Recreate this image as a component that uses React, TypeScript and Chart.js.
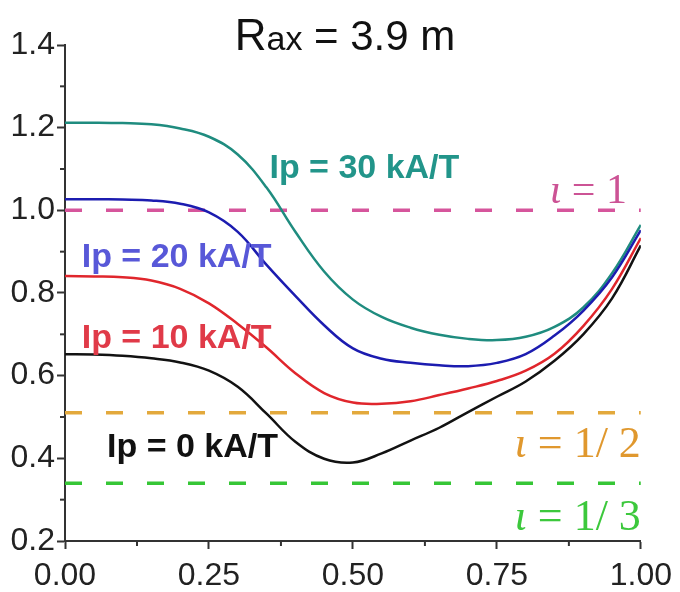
import React, { useEffect, useRef } from 'react';
import { Chart, registerables } from 'chart.js';

Chart.register(...registerables);

// Normalised radius (x) samples
const X_VALUES = [0, 0.05, 0.1, 0.15, 0.2, 0.25, 0.3, 0.35, 0.4, 0.45, 0.5, 0.55, 0.6, 0.65, 0.7, 0.75, 0.8, 0.85, 0.9, 0.95, 1.0];

// Rotational transform profiles for each plasma current
const IP0 = [0.652, 0.651, 0.648, 0.642, 0.632, 0.612, 0.573, 0.508, 0.44, 0.399, 0.39, 0.412, 0.443, 0.474, 0.512, 0.549, 0.586, 0.636, 0.7, 0.787, 0.915];
const IP10 = [0.841, 0.84, 0.838, 0.83, 0.81, 0.775, 0.725, 0.668, 0.606, 0.558, 0.535, 0.532, 0.538, 0.553, 0.569, 0.587, 0.612, 0.653, 0.72, 0.81, 0.933];
const IP20 = [1.027, 1.027, 1.026, 1.024, 1.016, 0.995, 0.948, 0.868, 0.793, 0.722, 0.666, 0.641, 0.631, 0.625, 0.623, 0.631, 0.652, 0.697, 0.757, 0.838, 0.952];
const IP30 = [1.212, 1.212, 1.211, 1.208, 1.198, 1.178, 1.135, 1.055, 0.948, 0.852, 0.784, 0.742, 0.716, 0.699, 0.689, 0.686, 0.694, 0.718, 0.765, 0.848, 0.965];

// Rational surfaces (dashed reference lines)
const IOTA_LEVELS = [1.0, 0.51, 0.34];

// Axis ticks
const X_TICKS = [0, 0.25, 0.5, 0.75, 1.0];
const X_MINOR = [0.125, 0.375, 0.625, 0.875];
const Y_TICKS = [0.2, 0.4, 0.6, 0.8, 1.0, 1.2, 1.4];
const Y_MINOR = [0.3, 0.5, 0.7, 0.9, 1.1, 1.3];

const SANS = '"Liberation Sans", Arial, Helvetica, sans-serif';
const SERIF = '"Liberation Serif", "Times New Roman", Times, serif';

const CURVE_COLORS = ['#121212', '#e0262c', '#1c1cb0', '#1f8c7f'];
const DASH_COLORS = ['#d6559c', '#e3a93c', '#36c636'];

type Seg = { text: string; font: string };

const IP_LABELS = [
  { text: 'Ip = 30 kA/T', x: 0.355, y: 1.078, color: '#22958a' },
  { text: 'Ip = 20 kA/T', x: 0.029, y: 0.863, color: '#5858d8' },
  { text: 'Ip = 10 kA/T', x: 0.029, y: 0.667, color: '#e03a48' },
  { text: 'Ip = 0 kA/T', x: 0.073, y: 0.403, color: '#111111' },
];

const IOTA_LABELS = [
  { parts: ['1'], x: 0.976, y: 1.017, size: 42, color: '#cc5395' },
  { parts: ['1/ 2'], x: 1.0, y: 0.403, size: 44, color: '#e0982e' },
  { parts: ['1/ 3'], x: 1.0, y: 0.227, size: 44, color: '#3cc83c' },
];

function drawSegments(ctx: CanvasRenderingContext2D, segs: Seg[], xRight: number, baseline: number, color: string) {
  ctx.save();
  ctx.fillStyle = color;
  ctx.textBaseline = 'alphabetic';
  ctx.textAlign = 'left';
  let total = 0;
  const widths = segs.map((s) => {
    ctx.font = s.font;
    const w = ctx.measureText(s.text).width;
    total += w;
    return w;
  });
  let x = xRight - total;
  segs.forEach((s, i) => {
    ctx.font = s.font;
    ctx.fillText(s.text, x, baseline);
    x += widths[i];
  });
  ctx.restore();
}

const decorPlugin = {
  id: 'decor',
  afterDatasetsDraw(chart: any) {
    const ctx: CanvasRenderingContext2D = chart.ctx;
    const xs = chart.scales.x;
    const ys = chart.scales.y;
    const area = chart.chartArea;

    // minor ticks
    ctx.save();
    ctx.strokeStyle = '#333';
    ctx.lineWidth = 2;
    X_MINOR.forEach((v) => {
      const px = xs.getPixelForValue(v);
      ctx.beginPath();
      ctx.moveTo(px, area.bottom);
      ctx.lineTo(px, area.bottom + 5);
      ctx.stroke();
    });
    Y_MINOR.forEach((v) => {
      const py = ys.getPixelForValue(v);
      ctx.beginPath();
      ctx.moveTo(area.left, py);
      ctx.lineTo(area.left - 5, py);
      ctx.stroke();
    });
    ctx.restore();

    // Ip labels
    ctx.save();
    ctx.font = `bold 34px ${SANS}`;
    ctx.textAlign = 'left';
    ctx.textBaseline = 'alphabetic';
    IP_LABELS.forEach((l) => {
      ctx.fillStyle = l.color;
      ctx.fillText(l.text, xs.getPixelForValue(l.x), ys.getPixelForValue(l.y));
    });
    ctx.restore();

    // iota labels
    IOTA_LABELS.forEach((l) => {
      const segs: Seg[] = [
        { text: '\u03b9', font: `italic ${l.size}px ${SERIF}` },
        { text: ' = ', font: `${l.size}px ${SERIF}` },
        { text: l.parts[0], font: `${l.size}px ${SERIF}` },
      ];
      drawSegments(ctx, segs, xs.getPixelForValue(l.x), ys.getPixelForValue(l.y), l.color);
    });

    // title R_ax = 3.9 m
    ctx.save();
    ctx.fillStyle = '#111';
    ctx.textBaseline = 'alphabetic';
    ctx.textAlign = 'left';
    const parts: Seg[] = [
      { text: 'R', font: `44px ${SANS}` },
      { text: 'ax', font: `34px ${SANS}` },
      { text: ' = 3.9 m', font: `42px ${SANS}` },
    ];
    let total = 0;
    const ws = parts.map((p) => {
      ctx.font = p.font;
      const w = ctx.measureText(p.text).width;
      total += w;
      return w;
    });
    let x = 345 - total / 2;
    parts.forEach((p, i) => {
      ctx.font = p.font;
      ctx.fillText(p.text, x, 50);
      x += ws[i];
    });
    ctx.restore();
  },
};

export default function App() {
  const ref = useRef<HTMLCanvasElement | null>(null);

  useEffect(() => {
    if (!ref.current) return;
    const curves = [IP0, IP10, IP20, IP30].map((arr, i) => ({
      data: X_VALUES.map((x, j) => ({ x, y: arr[j] })),
      borderColor: CURVE_COLORS[i],
      borderWidth: 2.5,
      pointRadius: 0,
      fill: false,
      tension: 0.4,
    }));
    const dashes = IOTA_LEVELS.map((v, i) => ({
      data: [
        { x: X_TICKS[0], y: v },
        { x: X_TICKS[X_TICKS.length - 1], y: v },
      ],
      borderColor: DASH_COLORS[i],
      borderWidth: 3.5,
      borderDash: [17, 24],
      pointRadius: 0,
      fill: false,
      tension: 0,
    }));

    const tickFont = { family: SANS, size: 32 };
    const chart = new Chart(ref.current, {
      type: 'line',
      data: { datasets: [...curves, ...dashes] as any },
      options: {
        animation: false,
        responsive: false,
        devicePixelRatio: 1,
        layout: { padding: { top: 45, right: 38, left: 0, bottom: 0 } },
        plugins: {
          legend: { display: false },
          tooltip: { enabled: false },
          title: { display: false },
        },
        scales: {
          x: {
            type: 'linear',
            min: 0,
            max: 1,
            afterBuildTicks: (s: any) => {
              s.ticks = X_TICKS.map((v) => ({ value: v }));
            },
            afterFit: (s: any) => {
              s.height = 51;
            },
            ticks: {
              font: tickFont,
              color: '#222',
              padding: 8,
              maxRotation: 0,
              autoSkip: false,
              callback: (v: any) => Number(v).toFixed(2),
            },
            grid: {
              drawOnChartArea: false,
              drawTicks: true,
              tickLength: 8,
              tickColor: '#333',
              tickWidth: 2,
            },
            border: { color: '#333', width: 2 },
          },
          y: {
            type: 'linear',
            min: 0.2,
            max: 1.4,
            afterBuildTicks: (s: any) => {
              s.ticks = Y_TICKS.map((v) => ({ value: v }));
            },
            afterFit: (s: any) => {
              s.width = 65;
            },
            ticks: {
              font: tickFont,
              color: '#222',
              padding: 2,
              autoSkip: false,
              callback: (v: any) => Number(v).toFixed(1),
            },
            grid: {
              drawOnChartArea: false,
              drawTicks: true,
              tickLength: 8,
              tickColor: '#333',
              tickWidth: 2,
            },
            border: { color: '#333', width: 2 },
          },
        },
      } as any,
      plugins: [decorPlugin],
    });
    return () => chart.destroy();
  }, []);

  return (
    <div style={{ position: 'absolute', left: 0, top: 0, width: 680, height: 592, background: '#fff' }}>
      <canvas ref={ref} width={680} height={592} style={{ width: 680, height: 592 }} />
    </div>
  );
}
